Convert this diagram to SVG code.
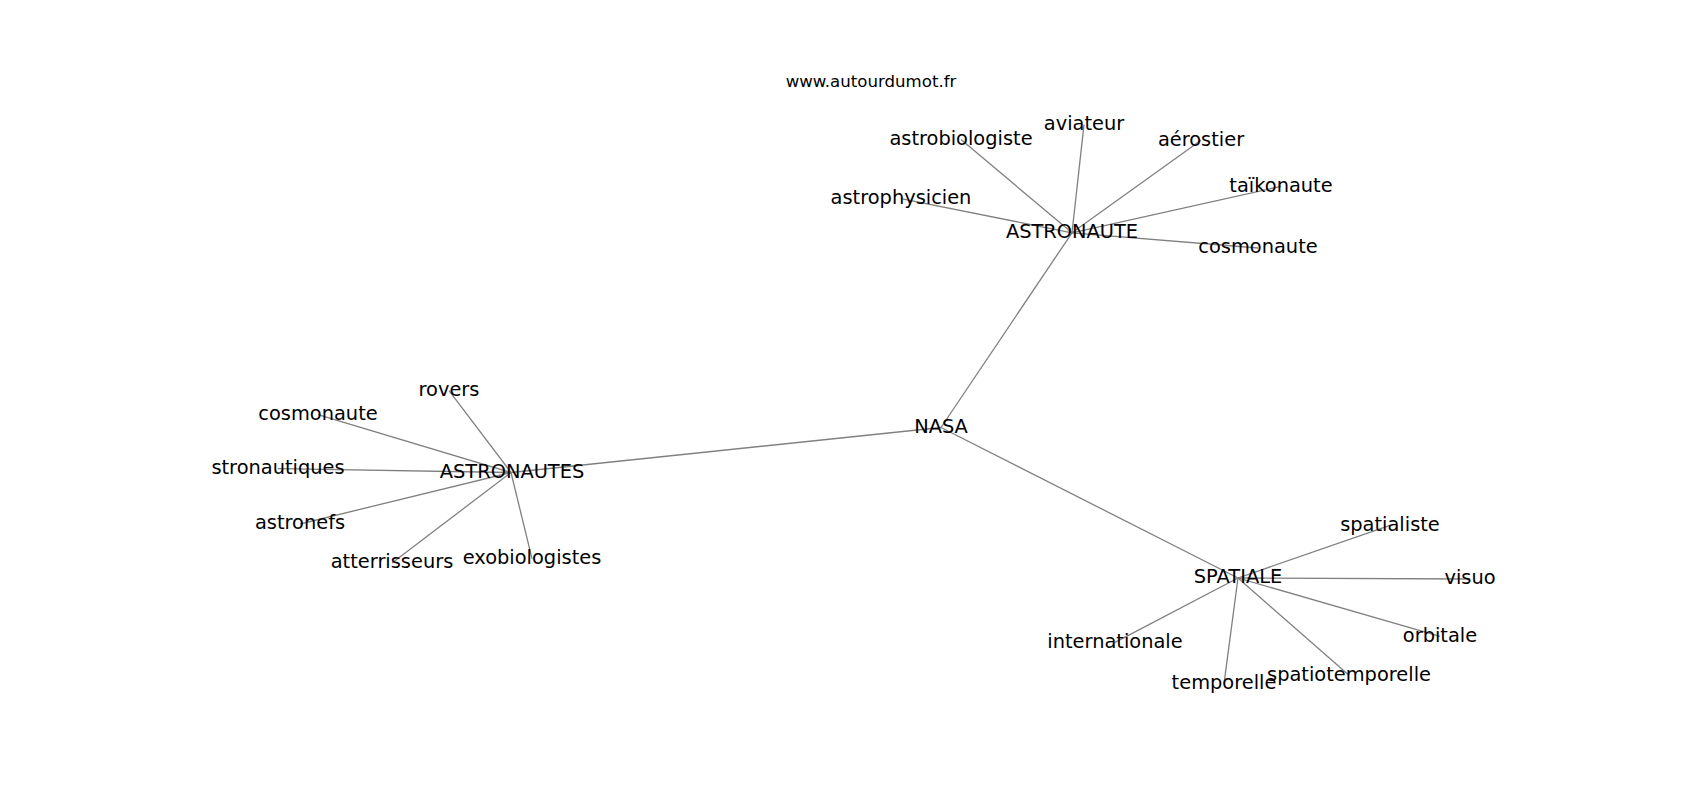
<svg xmlns="http://www.w3.org/2000/svg" width="1700" height="800" viewBox="0 0 1700 800">
<style>
.bg{fill:#ffffff}
.e line{stroke:#808080;stroke-width:1.3;fill:none}
text{font-family:"DejaVu Sans","Liberation Sans",sans-serif;font-size:19.4px;fill:#000000;text-anchor:middle}
.title{font-size:16.6px}
</style>
<rect class="bg" x="0" y="0" width="1700" height="800"/>
<g id="connectors" class="e">
<line x1="941" y1="427.5" x2="1072" y2="232.8"/>
<line x1="941" y1="427.5" x2="511" y2="472.5"/>
<line x1="941" y1="427.5" x2="1238" y2="578"/>
<line x1="1072" y1="232.8" x2="961" y2="139.6"/>
<line x1="1072" y1="232.8" x2="1084" y2="124.6"/>
<line x1="1072" y1="232.8" x2="1201" y2="140.3"/>
<line x1="1072" y1="232.8" x2="1281" y2="186.3"/>
<line x1="1072" y1="232.8" x2="901" y2="198.6"/>
<line x1="1072" y1="232.8" x2="1258" y2="248"/>
<line x1="511" y1="472.5" x2="449" y2="390.6"/>
<line x1="511" y1="472.5" x2="318" y2="414.6"/>
<line x1="511" y1="472.5" x2="278" y2="468.6"/>
<line x1="511" y1="472.5" x2="300" y2="524"/>
<line x1="511" y1="472.5" x2="392" y2="563"/>
<line x1="511" y1="472.5" x2="532" y2="558.6"/>
<line x1="1238" y1="578" x2="1390" y2="525.3"/>
<line x1="1238" y1="578" x2="1470" y2="579"/>
<line x1="1238" y1="578" x2="1440" y2="636.3"/>
<line x1="1238" y1="578" x2="1349" y2="675.3"/>
<line x1="1238" y1="578" x2="1224" y2="683.6"/>
<line x1="1238" y1="578" x2="1115" y2="642.3"/>
</g>
<g id="title"><text class="title" x="871" y="87">www.autourdumot.fr</text></g>
<g id="n-nasa"><text x="941" y="433">NASA</text></g>
<g id="n-astronaute"><text x="1072" y="238.2">ASTRONAUTE</text></g>
<g id="n-astronautes"><text x="512" y="478">ASTRONAUTES</text></g>
<g id="n-spatiale"><text x="1238" y="583.3">SPATIALE</text></g>
<g id="n-astrobiologiste"><text x="961" y="145">astrobiologiste</text></g>
<g id="n-aviateur"><text x="1084" y="130">aviateur</text></g>
<g id="n-aerostier"><text x="1201" y="145.7">aérostier</text></g>
<g id="n-taikonaute"><text x="1281" y="191.7">taïkonaute</text></g>
<g id="n-astrophysicien"><text x="901" y="204">astrophysicien</text></g>
<g id="n-cosmonaute1"><text x="1258" y="253.3">cosmonaute</text></g>
<g id="n-rovers"><text x="449" y="396">rovers</text></g>
<g id="n-cosmonaute2"><text x="318" y="420">cosmonaute</text></g>
<g id="n-stronautiques"><text x="278" y="474">stronautiques</text></g>
<g id="n-astronefs"><text x="300" y="529.3">astronefs</text></g>
<g id="n-atterrisseurs"><text x="392" y="568.3">atterrisseurs</text></g>
<g id="n-exobiologistes"><text x="532" y="564">exobiologistes</text></g>
<g id="n-spatialiste"><text x="1390" y="530.7">spatialiste</text></g>
<g id="n-visuo"><text x="1470" y="584.3">visuo</text></g>
<g id="n-orbitale"><text x="1440" y="641.7">orbitale</text></g>
<g id="n-spatiotemporelle"><text x="1349" y="680.7">spatiotemporelle</text></g>
<g id="n-temporelle"><text x="1224" y="689">temporelle</text></g>
<g id="n-internationale"><text x="1115" y="647.7">internationale</text></g>
</svg>
